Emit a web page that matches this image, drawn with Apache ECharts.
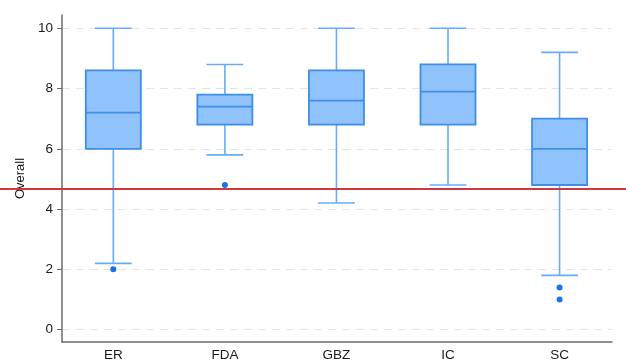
<!DOCTYPE html>
<html>
<head>
<meta charset="utf-8">
<script src="https://cdn.jsdelivr.net/npm/echarts@6/dist/echarts.min.js"></script>
<style>html,body{margin:0;padding:0;background:#fff;}#c{width:626px;height:363px;}</style>
</head>
<body>
<div id="c"></div>
<script>
const categories = ['ER', 'FDA', 'GBZ', 'IC', 'SC'];
const lowerWhisker = [2.2, 5.8, 4.2, 4.8, 1.8];
const q1 = [6.0, 6.8, 6.8, 6.8, 4.8];
const median = [7.2, 7.4, 7.6, 7.9, 6.0];
const q3 = [8.6, 7.8, 8.6, 8.8, 7.0];
const upperWhisker = [10, 8.8, 10, 10, 9.2];
const outlierCats = ['ER', 'FDA', 'SC', 'SC'];
const outlierVals = [2.0, 4.8, 1.4, 1.0];
const referenceValue = 4.67;
const yTicks = [0, 2, 4, 6, 8, 10];

const boxData = categories.map((c, i) => [i + 1, lowerWhisker[i], q1[i], median[i], q3[i], upperWhisker[i]]);
const outlierData = outlierCats.map((c, i) => [categories.indexOf(c) + 1, outlierVals[i]]);

const FILL = '#90c2fb', STROKE = '#3e8ee8', WHISK = '#68acf3', DOT = '#1a73ea';

function renderBox(params, api) {
  const x = api.value(0);
  const bandPx = api.size([1, 0])[0];
  const boxW = bandPx * 0.493, capW = bandPx * 0.33;
  const pLow = api.coord([x, api.value(1)]);
  const pQ1 = api.coord([x, api.value(2)]);
  const pMed = api.coord([x, api.value(3)]);
  const pQ3 = api.coord([x, api.value(4)]);
  const pHigh = api.coord([x, api.value(5)]);
  const cx = pQ1[0];
  const wStyle = {stroke: WHISK, lineWidth: 1.6, fill: null};
  return {
    type: 'group',
    children: [
      {type: 'line', shape: {x1: cx, y1: pQ3[1], x2: cx, y2: pHigh[1]}, style: wStyle},
      {type: 'line', shape: {x1: cx, y1: pQ1[1], x2: cx, y2: pLow[1]}, style: wStyle},
      {type: 'line', shape: {x1: cx - capW / 2, y1: pHigh[1], x2: cx + capW / 2, y2: pHigh[1]}, style: wStyle},
      {type: 'line', shape: {x1: cx - capW / 2, y1: pLow[1], x2: cx + capW / 2, y2: pLow[1]}, style: wStyle},
      {type: 'rect', shape: {x: cx - boxW / 2, y: pQ3[1], width: boxW, height: pQ1[1] - pQ3[1]},
        style: {fill: FILL, stroke: STROKE, lineWidth: 1.8}},
      {type: 'line', shape: {x1: cx - boxW / 2, y1: pMed[1], x2: cx + boxW / 2, y2: pMed[1]},
        style: {stroke: STROKE, lineWidth: 1.8}}
    ]
  };
}

const FONT = 'Liberation Sans, Arial, sans-serif';
const chart = echarts.init(document.getElementById('c'), null, {renderer: 'canvas'});
chart.setOption({
  animation: false,
  backgroundColor: '#fff',
  grid: {left: 62, right: 14, top: 15, bottom: 21, containLabel: false},
  xAxis: {
    type: 'value', min: 0.54, max: 5.47,
    axisLine: {show: true, onZero: false, lineStyle: {color: '#6b6b6b', width: 1.5}},
    axisTick: {show: false},
    splitLine: {show: false},
    axisLabel: {
      customValues: [1, 2, 3, 4, 5],
      formatter: v => categories[Math.round(v) - 1] || '',
      color: '#1a1a1a', fontSize: 13.5, fontFamily: FONT, margin: 6
    }
  },
  yAxis: {
    type: 'value', min: -0.41, max: 10.44,
    name: 'Overall', nameLocation: 'middle', nameGap: 33,
    nameTextStyle: {color: '#1a1a1a', fontSize: 13, fontFamily: FONT},
    axisLine: {show: true, onZero: false, lineStyle: {color: '#6b6b6b', width: 1.5}},
    axisTick: {show: true, customValues: yTicks, length: 5, lineStyle: {color: '#6b6b6b', width: 1}},
    axisLabel: {customValues: yTicks, color: '#1a1a1a', fontSize: 13.5, fontFamily: FONT, margin: 9},
    splitLine: {show: true, lineStyle: {color: '#e4e4e4', type: [8, 6], width: 1}}
  },
  series: [
    {type: 'custom', renderItem: renderBox, data: boxData, encode: {x: 0, y: [1, 2, 3, 4, 5]}, z: 3},
    {type: 'scatter', data: outlierData, symbol: 'circle', symbolSize: 6, itemStyle: {color: DOT, opacity: 1}, z: 4}
  ]
});

const yRef = chart.convertToPixel({yAxisIndex: 0}, referenceValue);
chart.setOption({
  graphic: [{
    type: 'line', z: 100,
    shape: {x1: 0, y1: yRef, x2: chart.getWidth(), y2: yRef},
    style: {stroke: '#d1373e', lineWidth: 2}
  }]
});
</script>
</body>
</html>
